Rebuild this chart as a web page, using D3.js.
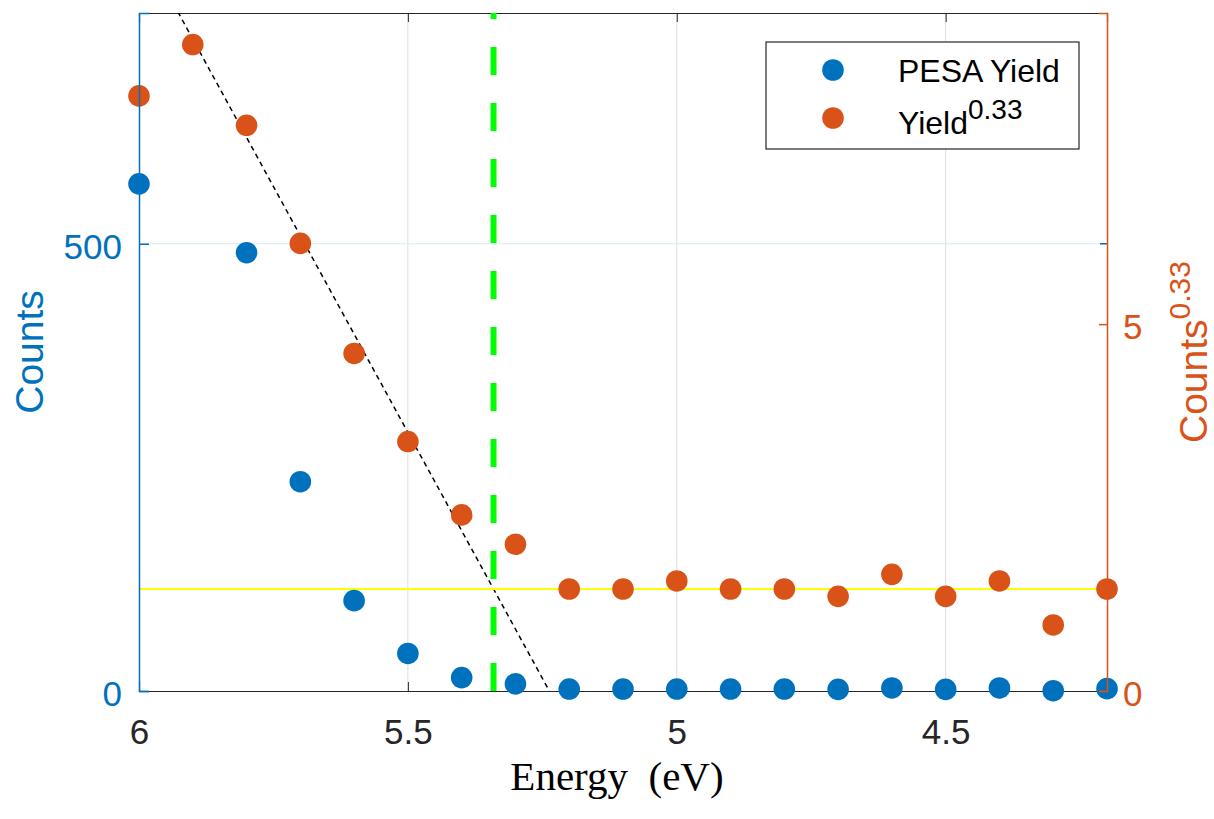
<!DOCTYPE html>
<html>
<head>
<meta charset="utf-8">
<script src="https://cdn.jsdelivr.net/npm/d3@7"></script>
<style>
  html, body { margin: 0; padding: 0; background: #fff; }
  svg { display: block; }
</style>
</head>
<body>
<svg id="chart" width="1214" height="819"></svg>
<script>
// ---- data ----
const energy   = [6.0, 5.9, 5.8, 5.7, 5.6, 5.5, 5.4, 5.3, 5.2, 5.1, 5.0, 4.9, 4.8, 4.7, 4.6, 4.5, 4.4, 4.3, 4.2];
const counts   = [567, null, 490, 234, 101, 42, 15, 8, 2.2, 2.2, 2.2, 2.2, 2.2, 1.8, 3.4, 1.8, 3.4, 0.3, 2.6];
const yield033 = [8.11, 8.81, 7.71, 6.10, 4.60, 3.40, 2.40, 2.00, 1.39, 1.39, 1.50, 1.39, 1.39, 1.29, 1.59, 1.29, 1.50, 0.90, 1.39];
const xTicks = [6, 5.5, 5, 4.5];
const xTickLabels = ["6", "5.5", "5", "4.5"];
const leftTicks = [0, 500];
const rightTicks = [0, 5];
const fitSlope = 13.4;      // Counts^0.33 per eV
const fitZero = 5.237;      // energy where the fit reaches 0
const baseline033 = 1.39;   // yellow background level
const legendLabels = ["PESA Yield", "Yield"];

// ---- layout ----
const SANS = "'Liberation Sans', Arial, Helvetica, sans-serif";
const SERIF = "'Liberation Serif', 'Times New Roman', serif";
const svg = d3.select("#chart");
const L = 139, R = 1107, T = 13, B = 691;
const blue = "#0072BD", orange = "#D95319", axisGray = "#262626";

const x = d3.scaleLinear().domain([6, 4.2]).range([L, R]);
const yL = d3.scaleLinear().domain([0, 758]).range([B, T]);
const yR = d3.scaleLinear().domain([0, 9.24]).range([B, T]);

svg.append("defs").append("clipPath").attr("id", "plotclip")
  .append("rect").attr("x", L).attr("y", T).attr("width", R - L).attr("height", B - T);

// grid
const grid = svg.append("g");
grid.selectAll("line.vg").data(xTicks.filter(d => d !== 6)).enter().append("line")
  .attr("x1", d => x(d)).attr("x2", d => x(d)).attr("y1", T).attr("y2", B)
  .attr("stroke", "#dedede").attr("stroke-width", 1);
grid.selectAll("line.hg").data(leftTicks.filter(d => d !== 0)).enter().append("line")
  .attr("x1", L).attr("x2", R).attr("y1", d => yL(d)).attr("y2", d => yL(d))
  .attr("stroke", "#d9eaf5").attr("stroke-width", 1);

// bottom & top axes
const xAxisB = d3.axisBottom(x).tickValues(xTicks).tickSize(-9).tickFormat((d, i) => xTickLabels[i]);
const gxb = svg.append("g").attr("transform", `translate(0,${B})`).call(xAxisB);
gxb.select(".domain").attr("stroke", axisGray).attr("stroke-width", 1.2);
gxb.selectAll(".tick line").attr("stroke", axisGray);
gxb.selectAll(".tick text").attr("fill", axisGray).attr("y", 0).attr("dy", 53)
  .style("font-size", "35px").style("font-family", SANS);
const xAxisT = d3.axisTop(x).tickValues(xTicks).tickSize(-9).tickFormat("");
const gxt = svg.append("g").attr("transform", `translate(0,${T})`).call(xAxisT);
gxt.select(".domain").attr("stroke", axisGray).attr("stroke-width", 1.2);
gxt.selectAll(".tick line").attr("stroke", axisGray);

const plot = svg.append("g").attr("clip-path", "url(#plotclip)");
const plotNoClip = svg.append("g");

// blue points
plotNoClip.selectAll("circle.cnt").data(energy.map((e, i) => ({e, v: counts[i]})).filter(d => d.v !== null))
  .enter().append("circle")
  .attr("cx", d => x(d.e)).attr("cy", d => yL(d.v)).attr("r", 10.8).attr("fill", blue);

// orange points
plotNoClip.selectAll("circle.yld").data(energy.map((e, i) => ({e, v: yield033[i]})))
  .enter().append("circle")
  .attr("cx", d => x(d.e)).attr("cy", d => yR(d.v)).attr("r", 10.8).attr("fill", orange);

// fit line (dashed black)
const fitY = e => fitSlope * (e - fitZero);
plot.append("line")
  .attr("x1", x(6)).attr("y1", yR(fitY(6)))
  .attr("x2", x(fitZero)).attr("y2", yR(0))
  .attr("stroke", "#000").attr("stroke-width", 1.5).attr("stroke-dasharray", "5,4");

// threshold: intersection of fit with baseline
const eThr = fitZero + baseline033 / fitSlope;
plot.append("line")
  .attr("x1", x(eThr)).attr("x2", x(eThr)).attr("y1", B).attr("y2", T)
  .attr("stroke", "#00ff00").attr("stroke-width", 6).attr("stroke-dasharray", "28,28");

// yellow line
plot.append("line")
  .attr("x1", L).attr("x2", R).attr("y1", yR(baseline033)).attr("y2", yR(baseline033))
  .attr("stroke", "#ffff00").attr("stroke-width", 2);

// left axis
const gl = svg.append("g").attr("transform", `translate(${L},0)`)
  .call(d3.axisLeft(yL).tickValues(leftTicks).tickSize(-10).tickPadding(17));
gl.select(".domain").attr("stroke", blue).attr("stroke-width", 1.5);
gl.selectAll(".tick line").attr("stroke", blue).attr("stroke-width", 1.5);
gl.selectAll(".tick text").attr("fill", blue).attr("dy", "0.42em")
  .style("font-size", "35px").style("font-family", SANS);
// mirrored left ticks on the right side
svg.append("g").selectAll("line").data(leftTicks.filter(d => d !== 0)).enter().append("line")
  .attr("x1", R - 7).attr("x2", R).attr("y1", d => yL(d)).attr("y2", d => yL(d))
  .attr("stroke", blue).attr("stroke-width", 1.5);

// right axis
const gr = svg.append("g").attr("transform", `translate(${R},0)`)
  .call(d3.axisRight(yR).tickValues(rightTicks).tickSize(-8).tickPadding(16));
gr.select(".domain").attr("stroke", orange).attr("stroke-width", 1.5);
gr.selectAll(".tick line").attr("stroke", orange).attr("stroke-width", 1.5);
gr.selectAll(".tick text").attr("fill", orange).attr("dy", "0.42em")
  .style("font-size", "35px").style("font-family", SANS);

// axis labels
svg.append("text").attr("x", 617).attr("y", 790).attr("text-anchor", "middle")
  .style("font-family", SERIF).style("font-size", "41px").style("white-space", "pre")
  .attr("fill", "#000").text("Energy  (eV)");

svg.append("text").attr("transform", `translate(43,${(T + B) / 2}) rotate(-90)`)
  .attr("text-anchor", "middle").style("font-size", "39px").style("font-family", SANS)
  .attr("fill", blue).text("Counts");

const rl = svg.append("text").attr("transform", `translate(1207,${(T + B) / 2}) rotate(-90)`)
  .attr("text-anchor", "middle").attr("fill", orange)
  .style("font-size", "39px").style("font-family", SANS);
rl.append("tspan").text("Counts");
rl.append("tspan").style("font-size", "30px").attr("dy", -17).text("0.33");

// legend
const lg = svg.append("g");
lg.append("rect").attr("x", 766).attr("y", 42).attr("width", 313).attr("height", 107)
  .attr("fill", "#fff").attr("stroke", axisGray).attr("stroke-width", 1.2);
const legColors = [blue, orange];
const legY = [70, 118];
legendLabels.forEach((lab, i) => {
  lg.append("circle").attr("cx", 833).attr("cy", legY[i]).attr("r", 10.8).attr("fill", legColors[i]);
});
lg.append("text").attr("x", 898).attr("y", 82).style("font-size", "32px").style("font-family", SANS)
  .attr("fill", "#000").text(legendLabels[0]);
const t2 = lg.append("text").attr("x", 898).attr("y", 134).style("font-size", "32px")
  .style("font-family", SANS).attr("fill", "#000");
t2.append("tspan").text(legendLabels[1]);
t2.append("tspan").style("font-size", "28px").attr("dy", -15).text("0.33");
</script>
</body>
</html>
